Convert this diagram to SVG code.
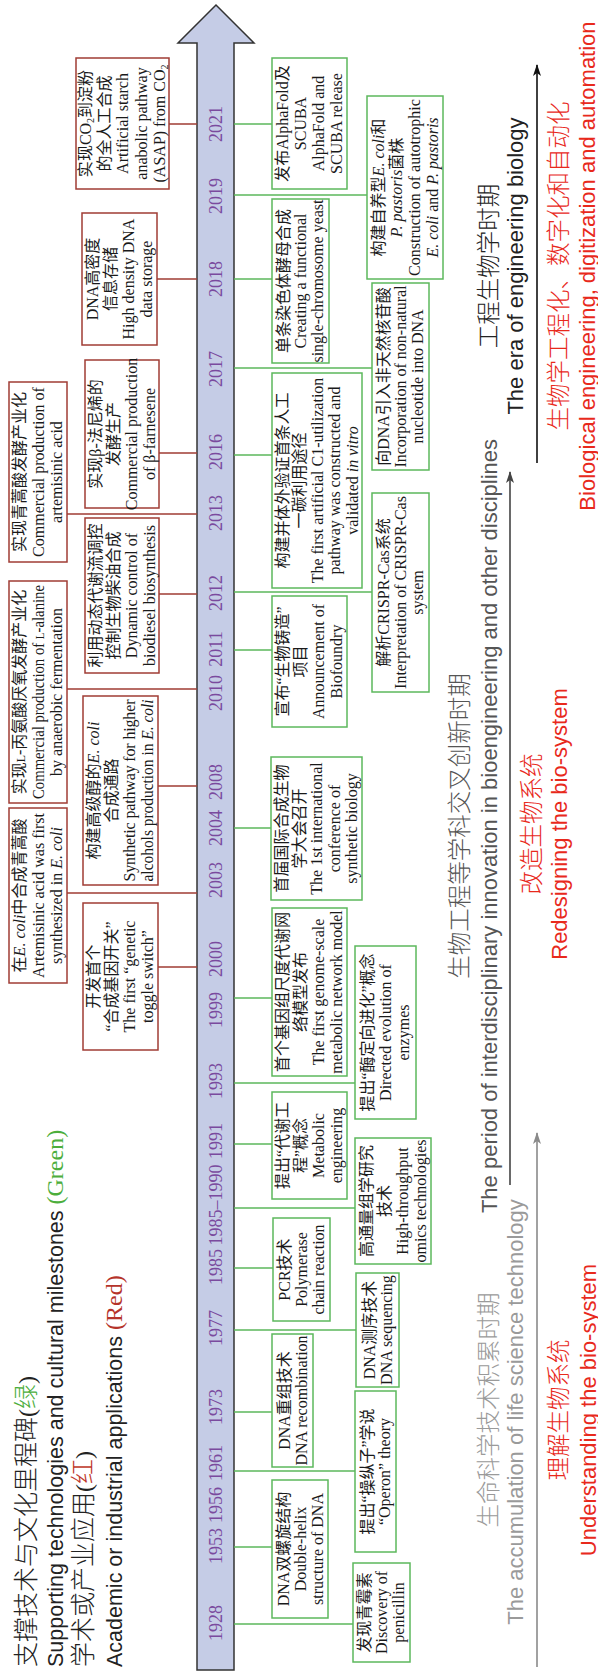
<svg xmlns="http://www.w3.org/2000/svg" width="598" height="1673" viewBox="0 0 598 1673">
<defs>
<style>
.bg{fill:#fff;stroke:#5cb85c;stroke-width:1.5}
.br{fill:#fff;stroke:#a03c35;stroke-width:1.5}
.cg{stroke:#5cb85c;stroke-width:1.5;fill:none}
.cr{stroke:#a03c35;stroke-width:1.5;fill:none}
.t{font-family:"Liberation Serif","Noto Sans CJK SC",serif;font-size:16px;text-anchor:middle;fill:#1a1a1a}
.i{font-style:italic}
.yr{font-family:"Liberation Serif",serif;font-size:18px;fill:#7a4a9e;text-anchor:middle}
.tcn{font-family:"Noto Sans CJK SC",sans-serif;font-size:25px;font-weight:300;fill:#222}
.ten{font-family:"Liberation Sans",Arial,sans-serif;font-size:21.5px;fill:#222}
.par{font-family:"Liberation Serif",serif;font-size:24px}
.ecn{font-family:"Noto Sans CJK SC",sans-serif;font-size:23.5px;font-weight:300;text-anchor:middle}
.een{font-family:"Liberation Sans",Arial,sans-serif;font-size:22px;text-anchor:middle}
.red{fill:#e8291c}
</style>
<marker id="aGray" markerUnits="userSpaceOnUse" markerWidth="12" markerHeight="8" refX="11" refY="4" orient="auto"><path d="M0,0 L12,4 L0,8 L3,4 z" fill="#8a8a8a"/></marker>
<marker id="aDark" markerUnits="userSpaceOnUse" markerWidth="12" markerHeight="8" refX="11" refY="4" orient="auto"><path d="M0,0 L12,4 L0,8 L3,4 z" fill="#444"/></marker>
<marker id="aBlack" markerUnits="userSpaceOnUse" markerWidth="12" markerHeight="8" refX="11" refY="4" orient="auto"><path d="M0,0 L12,4 L0,8 L3,4 z" fill="#111"/></marker>
</defs>
<rect x="0" y="0" width="598" height="1673" fill="#fff"/>
<g transform="matrix(0,-1,1,0,0,1673)">
<!-- titles -->
<g id="legend">
<text x="6" y="34.5" class="tcn">支撑技术与文化里程碑<tspan class="par" fill="#222">(</tspan><tspan fill="#4cae3c">绿</tspan><tspan class="par" fill="#222">)</tspan></text>
<text x="6" y="63" class="ten">Supporting technologies and cultural milestones <tspan class="par" fill="#4cae3c">(Green)</tspan></text>
<text x="6" y="92" class="tcn">学术或产业应用<tspan class="par" fill="#222">(</tspan><tspan fill="#c0392b">红</tspan><tspan class="par" fill="#222">)</tspan></text>
<text x="6" y="121.5" class="ten">Academic or industrial applications <tspan class="par" fill="#b5332a">(Red)</tspan></text>
</g>
<!-- timeline -->
<g id="timeline">
<polygon points="3,197 1630,197 1630,178 1668,216 1630,254 1630,234 3,234" fill="#c5cce6" stroke="#333" stroke-width="1.5"/>
<g class="yr">
<text x="50" y="222">1928</text>
<text x="127" y="222">1953</text>
<text x="168" y="222">1956</text>
<text x="210" y="222">1961</text>
<text x="266" y="222">1973</text>
<text x="345" y="222">1977</text>
<text x="406" y="222">1985</text>
<text x="468" y="222">1985–1990</text>
<text x="532" y="222">1991</text>
<text x="592" y="222">1993</text>
<text x="663" y="222">1999</text>
<text x="714" y="222">2000</text>
<text x="793" y="222">2003</text>
<text x="845" y="222">2004</text>
<text x="891" y="222">2008</text>
<text x="980" y="222">2010</text>
<text x="1024" y="222">2011</text>
<text x="1080" y="222">2012</text>
<text x="1160" y="222">2013</text>
<text x="1221" y="222">2016</text>
<text x="1304" y="222">2017</text>
<text x="1394" y="222">2018</text>
<text x="1477" y="222">2019</text>
<text x="1549" y="222">2021</text>
</g>
</g>
<!-- connectors -->
<g id="connectors">
<path class="cr" d="M706,158V197M780,67V197M887,158V197M984,67V197M1079,159V197M1159,67V197M1220,159V197M1394,157V197M1549,169V197"/>
<path class="cg" d="M49,234V353M126,234V272M202,234V355M261,234V272M343,234V356M405,234V273M465,234V355M529,234V272M590,234V355M675,234V272M845,234V271M1023,234V272M1081,234V372M1218,234V272M1305,234V372M1394,234V272M1478,234V367M1549,234V272"/>
<line x1="6" y1="537" x2="540" y2="537" stroke="#8a8a8a" stroke-width="1.6" marker-end="url(#aGray)"/>
<line x1="488" y1="510" x2="1201" y2="510" stroke="#444" stroke-width="1.6" marker-end="url(#aDark)"/>
<line x1="1210" y1="537" x2="1608" y2="537" stroke="#111" stroke-width="1.6" marker-end="url(#aBlack)"/>
</g>
<!-- green nodes -->
<g id="g1928"><rect class="bg" x="11" y="353" width="99" height="57"/><text class="t" x="60.5" y="370">发现青霉素</text><text class="t" x="60.5" y="387">Discovery of</text><text class="t" x="60.5" y="404">penicillin</text></g>
<g id="g1953"><rect class="bg" x="55" y="272" width="138" height="56"/><text class="t" x="124" y="288.5">DNA双螺旋结构</text><text class="t" x="124" y="305.5">Double-helix</text><text class="t" x="124" y="322.5">structure of DNA</text></g>
<g id="g1961"><rect class="bg" x="121" y="355" width="161" height="41"/><text class="t" x="201.5" y="372.5">提出“操纵子”学说</text><text class="t" x="201.5" y="389.5">“Operon” theory</text></g>
<g id="g1973"><rect class="bg" x="206" y="272" width="133" height="41"/><text class="t" x="272.5" y="289.5">DNA重组技术</text><text class="t" x="272.5" y="306.5">DNA recombination</text></g>
<g id="g1977"><rect class="bg" x="286" y="356" width="114" height="43"/><text class="t" x="343" y="374.5">DNA测序技术</text><text class="t" x="343" y="391.5">DNA sequencing</text></g>
<g id="g1985"><rect class="bg" x="352" y="273" width="103" height="57"/><text class="t" x="403.5" y="290">PCR技术</text><text class="t" x="403.5" y="307">Polymerase</text><text class="t" x="403.5" y="324">chain reaction</text></g>
<g id="g1985-1990"><rect class="bg" x="409" y="355" width="126" height="76"/><text class="t" x="472" y="371.5">高通量组学研究</text><text class="t" x="472" y="389.5">技术</text><text class="t" x="472" y="407.5">High-throughput</text><text class="t" x="472" y="425.5">omics technologies</text></g>
<g id="g1991"><rect class="bg" x="474" y="272" width="107" height="75"/><text class="t" x="527.5" y="288">提出“代谢工</text><text class="t" x="527.5" y="306">程”概念</text><text class="t" x="527.5" y="324">Metabolic</text><text class="t" x="527.5" y="342">engineering</text></g>
<g id="g1993"><rect class="bg" x="554" y="355" width="173" height="61"/><text class="t" x="640.5" y="373">提出“酶定向进化”概念</text><text class="t" x="640.5" y="391">Directed evolution of</text><text class="t" x="640.5" y="409">enzymes</text></g>
<g id="g1999"><rect class="bg" x="597" y="272" width="168" height="75"/><text class="t" x="681" y="288">首个基因组尺度代谢网</text><text class="t" x="681" y="306">络模型发布</text><text class="t" x="681" y="324">The first genome-scale</text><text class="t" x="681" y="342">metabolic network model</text></g>
<g id="g2004"><rect class="bg" x="773" y="271" width="143" height="91"/><text class="t" x="844.5" y="287">首届国际合成生物</text><text class="t" x="844.5" y="304.5">学大会召开</text><text class="t" x="844.5" y="322">The 1st international</text><text class="t" x="844.5" y="339.5">conference of</text><text class="t" x="844.5" y="357">synthetic biology</text></g>
<g id="g2011"><rect class="bg" x="946" y="272" width="131" height="75"/><text class="t" x="1011.5" y="288">宣布“生物铸造”</text><text class="t" x="1011.5" y="306">项目</text><text class="t" x="1011.5" y="324">Announcement of</text><text class="t" x="1011.5" y="342">Biofoundry</text></g>
<g id="g2012"><rect class="bg" x="981" y="372" width="199" height="57"/><text class="t" x="1080.5" y="389">解析CRISPR-Cas系统</text><text class="t" x="1080.5" y="406">Interpretation of CRISPR-Cas</text><text class="t" x="1080.5" y="423">system</text></g>
<g id="g2016"><rect class="bg" x="1085" y="272" width="215" height="90"/><text class="t" x="1192.5" y="287.5">构建并体外验证首条人工</text><text class="t" x="1192.5" y="305">一碳利用途径</text><text class="t" x="1192.5" y="322.5">The first artificial C1-utilization</text><text class="t" x="1192.5" y="340">pathway was constructed and</text><text class="t" x="1192.5" y="357.5">validated <tspan class="i">in vitro</tspan></text></g>
<g id="g2017"><rect class="bg" x="1203" y="372" width="187" height="57"/><text class="t" x="1296.5" y="389">向DNA引入非天然核苷酸</text><text class="t" x="1296.5" y="406">Incorporation of non-natural</text><text class="t" x="1296.5" y="423">nucleotide into DNA</text></g>
<g id="g2018"><rect class="bg" x="1310" y="272" width="164" height="57"/><text class="t" x="1392" y="289">单条染色体酵母合成</text><text class="t" x="1392" y="306">Creating a functional</text><text class="t" x="1392" y="323">single-chromosome yeast</text></g>
<g id="g2019"><rect class="bg" x="1394" y="367" width="183" height="76"/><text class="t" x="1485.5" y="383.5">构建自养型<tspan class="i">E. coli</tspan>和</text><text class="t" x="1485.5" y="401.5"><tspan class="i">P. pastoris</tspan>菌株</text><text class="t" x="1485.5" y="419.5">Construction of autotrophic</text><text class="t" x="1485.5" y="437.5"><tspan class="i">E. coli</tspan> and <tspan class="i">P. pastoris</tspan></text></g>
<g id="g2021"><rect class="bg" x="1484" y="272" width="131" height="75"/><text class="t" x="1549.5" y="288">发布AlphaFold及</text><text class="t" x="1549.5" y="306">SCUBA</text><text class="t" x="1549.5" y="324">AlphaFold and</text><text class="t" x="1549.5" y="342">SCUBA  release</text></g>
<!-- red nodes -->
<g id="r2000"><rect class="br" x="623" y="83" width="147" height="75"/><text class="t" x="696.5" y="99">开发首个</text><text class="t" x="696.5" y="117">“合成基因开关”</text><text class="t" x="696.5" y="135">The first “genetic</text><text class="t" x="696.5" y="153">toggle switch”</text></g>
<g id="r2003"><rect class="br" x="690" y="9" width="175" height="58"/><text class="t" x="777.5" y="25">在<tspan class="i">E. coli</tspan>中合成青蒿酸</text><text class="t" x="777.5" y="43.5">Artemisinic acid was first</text><text class="t" x="777.5" y="62">synthesized in <tspan class="i">E. coli</tspan></text></g>
<g id="r2008"><rect class="br" x="788" y="83" width="189" height="75"/><text class="t" x="882.5" y="99">构建高级醇的<tspan class="i">E. coli</tspan></text><text class="t" x="882.5" y="117">合成通路</text><text class="t" x="882.5" y="135" textLength="182" lengthAdjust="spacing">Synthetic pathway for higher</text><text class="t" x="882.5" y="153" textLength="182" lengthAdjust="spacingAndGlyphs">alcohols production in <tspan class="i">E. coli</tspan></text></g>
<g id="r2010"><rect class="br" x="870" y="9" width="222" height="58"/><text class="t" x="981" y="25">实现<tspan font-size="12">L</tspan>-丙氨酸厌氧发酵产业化</text><text class="t" x="981" y="43.5" textLength="214" lengthAdjust="spacingAndGlyphs">Commercial production of <tspan font-size="12">L</tspan>-alanine</text><text class="t" x="981" y="62">by anaerobic fermentation</text></g>
<g id="r2012"><rect class="br" x="1000" y="85" width="155" height="74"/><text class="t" x="1077.5" y="100.5">利用动态代谢流调控</text><text class="t" x="1077.5" y="118.5">控制生物柴油合成</text><text class="t" x="1077.5" y="136.5">Dynamic control of</text><text class="t" x="1077.5" y="154.5">biodiesel biosynthesis</text></g>
<g id="r2013"><rect class="br" x="1111" y="9" width="180" height="58"/><text class="t" x="1201" y="25">实现青蒿酸发酵产业化</text><text class="t" x="1201" y="43.5">Commercial production of</text><text class="t" x="1201" y="62">artemisinic acid</text></g>
<g id="r2016"><rect class="br" x="1165" y="85" width="148" height="74"/><text class="t" x="1239" y="100.5">实现β-法尼烯的</text><text class="t" x="1239" y="118.5">发酵生产</text><text class="t" x="1239" y="136.5">Commercial production</text><text class="t" x="1239" y="154.5">of β-farnesene</text></g>
<g id="r2018"><rect class="br" x="1328" y="82" width="132" height="75"/><text class="t" x="1394" y="98">DNA高密度</text><text class="t" x="1394" y="116">信息存储</text><text class="t" x="1394" y="134">High density DNA</text><text class="t" x="1394" y="152">data storage</text></g>
<g id="r2021"><rect class="br" x="1484" y="76" width="131" height="93"/><text class="t" x="1549.5" y="91">实现CO<tspan font-size="10" dy="3">2</tspan><tspan dy="-3">到淀粉</tspan></text><text class="t" x="1549.5" y="109.5">的全人工合成</text><text class="t" x="1549.5" y="128">Artificial starch</text><text class="t" x="1549.5" y="146.5">anabolic pathway</text><text class="t" x="1549.5" y="165">(ASAP) from CO<tspan font-size="10" dy="3">2</tspan></text></g>
<!-- eras -->
<g id="era1">
<text class="ecn" x="263" y="496.5" fill="#9a9a9a">生命科学技术积累时期</text>
<text class="een" x="261" y="523" fill="#9a9a9a">The accumulation of life science technology</text>
<text class="ecn red" x="263" y="567">理解生物系统</text>
<text class="een red" x="263" y="596">Understanding the bio-system</text>
</g>
<g id="era2">
<text class="ecn" x="847" y="468" fill="#555">生物工程等学科交叉创新时期</text>
<text class="een" x="847" y="497" fill="#555">The period of interdisciplinary innovation in bioengineering and other disciplines</text>
<text class="ecn red" x="849" y="540">改造生物系统</text>
<text class="een red" x="849" y="567">Redesigning the bio-system</text>
</g>
<g id="era3">
<text class="ecn" x="1407" y="496.5" fill="#222">工程生物学时期</text>
<text class="een" x="1407" y="523" fill="#222">The era of engineering biology</text>
<text class="ecn red" x="1407" y="567">生物学工程化、数字化和自动化</text>
<text class="een red" x="1407" y="595">Biological engineering, digitization and automation</text>
</g>
</g>
</svg>
